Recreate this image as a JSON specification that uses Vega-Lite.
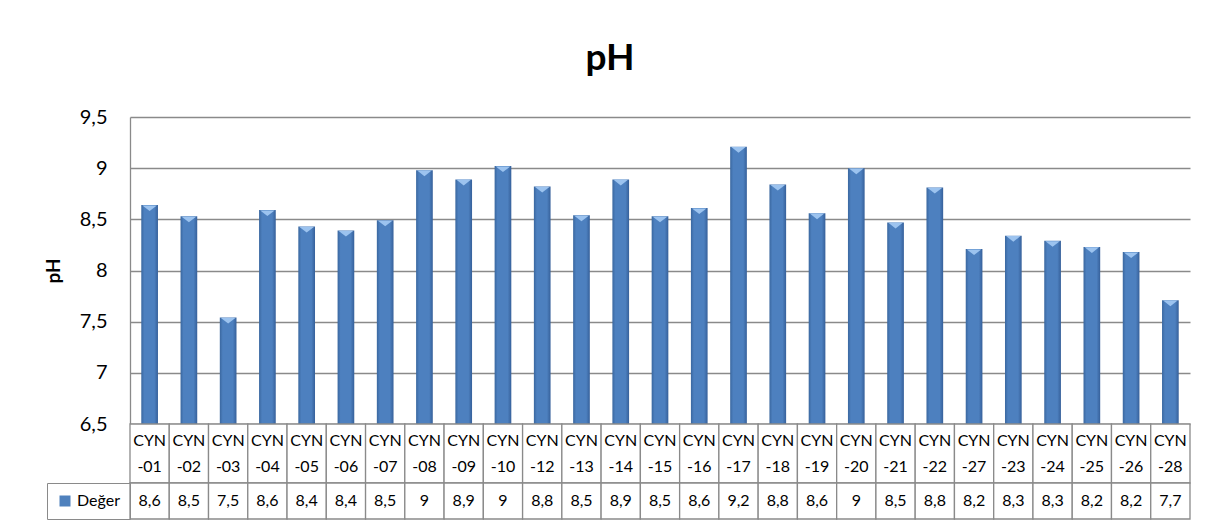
{
  "$schema": "https://vega.github.io/schema/vega-lite/v6.json",
  "padding": {"left": 44, "top": 40, "right": 23, "bottom": 10},
  "background": "white",
  "title": {"text": "pH", "fontSize": 37, "font": "Lato", "fontWeight": "bold", "color": "black", "anchor": "middle", "frame": "group", "dx": -50, "offset": 29},
  "data": {"values": [
    {"numune": "CYN-01", "deger": 8.64},
    {"numune": "CYN-02", "deger": 8.53},
    {"numune": "CYN-03", "deger": 7.54},
    {"numune": "CYN-04", "deger": 8.59},
    {"numune": "CYN-05", "deger": 8.43},
    {"numune": "CYN-06", "deger": 8.39},
    {"numune": "CYN-07", "deger": 8.49},
    {"numune": "CYN-08", "deger": 8.98},
    {"numune": "CYN-09", "deger": 8.89},
    {"numune": "CYN-10", "deger": 9.02},
    {"numune": "CYN-12", "deger": 8.82},
    {"numune": "CYN-13", "deger": 8.54},
    {"numune": "CYN-14", "deger": 8.89},
    {"numune": "CYN-15", "deger": 8.53},
    {"numune": "CYN-16", "deger": 8.61},
    {"numune": "CYN-17", "deger": 9.21},
    {"numune": "CYN-18", "deger": 8.84},
    {"numune": "CYN-19", "deger": 8.56},
    {"numune": "CYN-20", "deger": 9.0},
    {"numune": "CYN-21", "deger": 8.47},
    {"numune": "CYN-22", "deger": 8.81},
    {"numune": "CYN-27", "deger": 8.21},
    {"numune": "CYN-23", "deger": 8.34},
    {"numune": "CYN-24", "deger": 8.29},
    {"numune": "CYN-25", "deger": 8.23},
    {"numune": "CYN-26", "deger": 8.18},
    {"numune": "CYN-28", "deger": 7.71}
  ]},
  "transform": [{"calculate": "['CYN', '-' + split(datum.numune, '-')[1]]", "as": "etiket"}],
  "bounds": "flush",
  "spacing": 0,
  "vconcat": [
    {
      "width": 1060,
      "height": 307,
      "encoding": {
        "x": {"field": "numune", "type": "nominal", "sort": null, "scale": {"paddingInner": 0.575, "paddingOuter": 0.2875}, "axis": null}
      },
      "layer": [
        {
          "mark": {"type": "bar", "color": {"gradient": "linear", "x1": 0, "x2": 1, "y1": 0, "y2": 0, "stops": [
            {"offset": 0, "color": "#3a679f"},
            {"offset": 0.18, "color": "#4d80bf"},
            {"offset": 0.78, "color": "#4d80bf"},
            {"offset": 1, "color": "#36609a"}
          ]}},
          "encoding": {
            "y": {"field": "deger", "type": "quantitative",
              "scale": {"domain": [6.5, 9.5], "nice": false, "zero": false},
              "axis": {"values": [6.5, 7, 7.5, 8, 8.5, 9, 9.5], "format": ".2~r", "grid": true, "gridColor": "#8a8a8a", "gridWidth": 1.3,
                "domain": true, "domainColor": "#8a8a8a", "domainWidth": 1.3, "ticks": false, "tickSize": 0, "labelPadding": 23,
                "labelFontSize": 20, "labelColor": "black", "labelFont": "Lato",
                "title": "pH", "titleFontSize": 19, "titleFontWeight": "bold", "titleColor": "black", "titleFont": "Lato", "titlePadding": 16}},
            "y2": {"datum": 6.5}
          }
        },
        {
          "mark": {"type": "point", "shape": "M-0.9,0.05L0.9,0.05L0,0.75Z", "filled": true, "size": 256, "color": "#9cc3ef", "opacity": 1},
          "encoding": {
            "y": {"field": "deger", "type": "quantitative"}
          }
        }
      ]
    },
    {
      "width": 1060,
      "height": 59,
      "encoding": {
        "x": {"field": "numune", "type": "nominal", "sort": null, "scale": {"paddingInner": 0, "paddingOuter": 0}, "axis": null}
      },
      "layer": [
        {"mark": {"type": "rect", "fill": "white", "stroke": "#8a8a8a", "strokeWidth": 1.3}},
        {"mark": {"type": "text", "font": "Lato", "fontSize": 16, "lineHeight": 26, "dy": -13, "color": "black", "baseline": "middle"},
         "encoding": {"text": {"field": "etiket"}}}
      ]
    },
    {
      "width": 1060,
      "height": 36,
      "encoding": {
        "x": {"field": "numune", "type": "nominal", "sort": null, "scale": {"paddingInner": 0, "paddingOuter": 0}, "axis": null}
      },
      "layer": [
        {"mark": {"type": "rect", "fill": "white", "stroke": "#8a8a8a", "strokeWidth": 1.3}},
        {"mark": {"type": "text", "font": "Lato", "fontSize": 16, "color": "black", "baseline": "middle"},
         "encoding": {"text": {"field": "deger", "type": "quantitative", "format": ".2~r"}}},
        {"mark": {"type": "point", "filled": true, "size": 0, "opacity": 1},
         "encoding": {
           "x": {"value": 0},
           "color": {"datum": "Değer", "type": "nominal", "scale": {"range": ["#4f81bd"]},
             "legend": {"title": null, "orient": "left", "offset": 0, "padding": 10, "strokeColor": "#8a8a8a",
               "symbolType": "square", "symbolSize": 121, "symbolStrokeWidth": 0, "labelFont": "Lato", "labelFontSize": 16, "labelColor": "black", "labelOffset": 4}}
         }}
      ]
    }
  ],
  "resolve": {"scale": {"x": "independent", "color": "independent"}, "legend": {"color": "independent"}},
  "config": {
    "view": {"stroke": null},
    "locale": {"number": {"decimal": ",", "thousands": ".", "grouping": [3], "currency": ["", ""]}}
  }
}
